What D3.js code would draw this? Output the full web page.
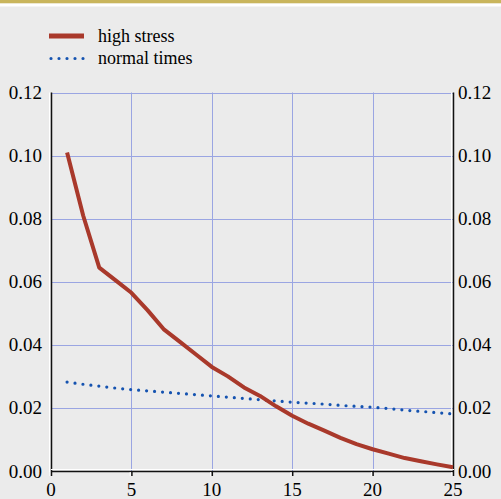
<!DOCTYPE html>
<html><head><meta charset="utf-8">
<script src="https://cdn.jsdelivr.net/npm/d3@7"></script>
<style>html,body{margin:0;padding:0;background:#ebebeb;}svg{display:block;}
svg text{font-family:"Liberation Serif","Times New Roman",Times,"DejaVu Serif",serif;}</style>
</head><body><svg id="c" width="501" height="499"></svg>
<script>
const years = d3.range(1, 26);
const highStress = [0.101,0.081,0.0645,0.0605,0.0565,0.051,0.045,0.041,0.037,0.033,0.030,0.0265,0.0238,0.0205,0.0175,0.015,0.0128,0.0105,0.0085,0.0069,0.0055,0.0041,0.0031,0.0021,0.0012];
const normalTimes = [0.0282,0.0275,0.0269,0.0263,0.0258,0.0254,0.0250,0.0246,0.0242,0.0238,0.0234,0.0230,0.0226,0.0222,0.0218,0.0215,0.0212,0.0208,0.0205,0.0202,0.0198,0.0193,0.0189,0.0185,0.0181];
const seriesNames = ["high stress","normal times"];
const yTicks = [0,0.02,0.04,0.06,0.08,0.10,0.12];
const xTicks = [0,5,10,15,20,25];

const svg = d3.select("#c");
const W=501,H=499;
const L=51,R=453,T=92.5,B=471;
const x = d3.scaleLinear().domain([0,25]).range([L,R]);
const y = d3.scaleLinear().domain([0,0.12]).range([B,T]);

svg.append("rect").attr("width",W).attr("height",H).attr("fill","#ebebeb");
svg.append("rect").attr("width",W).attr("height",3.5).attr("fill","#c9b55c");
svg.append("rect").attr("y",3.5).attr("width",W).attr("height",3).attr("fill","#ffffff");

// grid
const g = svg.append("g");
g.selectAll("line.h").data(yTicks.filter(d=>d>0)).join("line")
  .attr("x1",L).attr("x2",R).attr("y1",d=>Math.round(y(d))+0.5).attr("y2",d=>Math.round(y(d))+0.5)
  .attr("stroke","#9aa5e2").attr("stroke-width",1);
g.selectAll("line.v").data(xTicks.filter(d=>d>0&&d<25)).join("line")
  .attr("x1",d=>Math.round(x(d))+0.5).attr("x2",d=>Math.round(x(d))+0.5).attr("y1",T).attr("y2",B)
  .attr("stroke","#9aa5e2").attr("stroke-width",1);

// axes lines
svg.append("line").attr("x1",L-1.5).attr("x2",L-1.5).attr("y1",T).attr("y2",B+1).attr("stroke","#fff").attr("stroke-width",1);
svg.append("line").attr("x1",L+0.5).attr("x2",L+0.5).attr("y1",T).attr("y2",B+1).attr("stroke","#111").attr("stroke-width",1.5);
svg.append("line").attr("x1",R-1.5).attr("x2",R-1.5).attr("y1",T).attr("y2",B).attr("stroke","#fff").attr("stroke-width",1);
svg.append("line").attr("x1",R+0.5).attr("x2",R+0.5).attr("y1",T).attr("y2",B+1).attr("stroke","#111").attr("stroke-width",1.5);
svg.append("line").attr("x1",L).attr("x2",R+1).attr("y1",B-1.5).attr("y2",B-1.5).attr("stroke","#fff").attr("stroke-width",1);
svg.append("line").attr("x1",L).attr("x2",R+1).attr("y1",B+0.5).attr("y2",B+0.5).attr("stroke","#111").attr("stroke-width",1.5);

// bottom ticks
const xt = svg.append("g");
xt.selectAll("line.tw").data(xTicks).join("line")
  .attr("x1",d=>x(d)-1.2).attr("x2",d=>x(d)-1.2).attr("y1",B+1).attr("y2",B+5).attr("stroke","#fff").attr("stroke-width",1);
xt.selectAll("line.tb").data(xTicks).join("line")
  .attr("x1",d=>x(d)+0.5).attr("x2",d=>x(d)+0.5).attr("y1",B+1).attr("y2",B+5).attr("stroke","#111").attr("stroke-width",1.5);
xt.selectAll("text").data(xTicks).join("text")
  .attr("x",d=>x(d)).attr("y",495.5).attr("text-anchor","middle")
  .attr("font-size",19).attr("fill","#000").text(d=>d);

// y labels both sides
const fmt = d3.format(".2f");
svg.append("g").selectAll("text").data(yTicks).join("text")
  .attr("x",42).attr("y",d=>y(d)+6.5).attr("text-anchor","end")
  .attr("font-size",19).attr("fill","#000").text(fmt);
svg.append("g").selectAll("text").data(yTicks).join("text")
  .attr("x",458).attr("y",d=>y(d)+6.5).attr("text-anchor","start")
  .attr("font-size",19).attr("fill","#000").text(fmt);

// lines
const line = d3.line().x((d,i)=>x(years[i])).y(d=>y(d)).curve(d3.curveMonotoneX);
svg.append("path").datum(normalTimes).attr("d",line).attr("fill","none")
  .attr("stroke","#1553b0").attr("stroke-width",3.2).attr("stroke-linecap","round").attr("stroke-dasharray","0 8");
const line2 = d3.line().x((d,i)=>x(years[i])).y(d=>y(d));
svg.append("path").datum(highStress).attr("d",line2).attr("fill","none")
  .attr("stroke","#a9392b").attr("stroke-width",4).attr("stroke-linejoin","round");

// legend
const leg = svg.append("g");
leg.append("line").attr("x1",49).attr("x2",84).attr("y1",36).attr("y2",36).attr("stroke","#a9392b").attr("stroke-width",5);
leg.append("line").attr("x1",51).attr("x2",84).attr("y1",58.5).attr("y2",58.5).attr("stroke","#1553b0").attr("stroke-width",3.2).attr("stroke-linecap","round").attr("stroke-dasharray","0 8");
leg.selectAll("text").data(seriesNames).join("text")
  .attr("x",98).attr("y",(d,i)=>42+i*22).attr("font-size",18).attr("fill","#000").text(d=>d);
</script></body></html>
